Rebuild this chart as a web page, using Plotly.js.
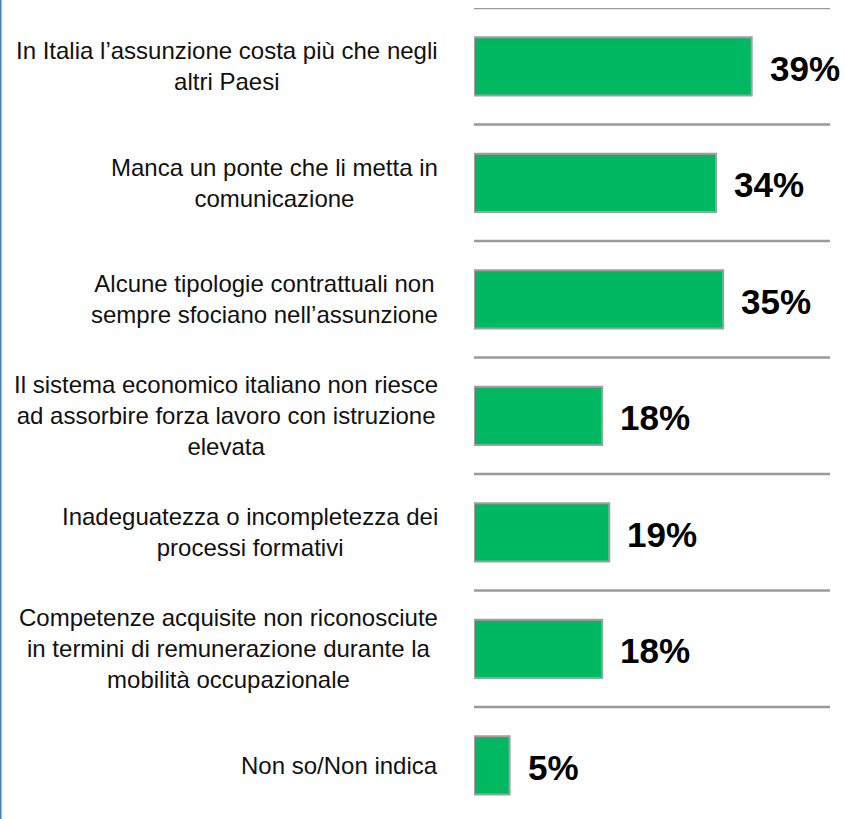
<!DOCTYPE html>
<html>
<head>
<meta charset="utf-8">
<script src="https://cdn.plot.ly/plotly-3.0.1.min.js"></script>
<style>
  html, body { margin: 0; padding: 0; background: #fff; }
  #chart { width: 845px; height: 819px; }
</style>
</head>
<body>
<div id="chart"></div>
<script>
// data, top to bottom
const categories = [
    'In Italia l’assunzione costa più che negli<br>altri Paesi',
    'Manca un ponte che li metta in<br>comunicazione',
    'Alcune tipologie contrattuali non<br>sempre sfociano nell’assunzione',
    'Il sistema economico italiano non riesce<br>ad assorbire forza lavoro con istruzione<br>elevata',
    'Inadeguatezza o incompletezza dei<br>processi formativi',
    'Competenze acquisite non riconosciute<br>in termini di remunerazione durante la<br>mobilità occupazionale',
    'Non so/Non indica'
];
const values = [39, 34, 35, 18, 19, 18, 5];
const valueLabels = ['39%', '34%', '35%', '18%', '19%', '18%', '5%'];

const FONT = 'Liberation Sans, Arial, Helvetica, sans-serif';
const GREEN = '#00b862';
const LINE_GREY = '#9a9a9a';

const trace = {
    type: 'bar',
    orientation: 'h',
    x: values,
    y: categories,
    width: 0.5,
    marker: { color: GREEN, line: { color: '#a0a0a0', width: 2 } },
    hoverinfo: 'none'
};

// left labels, right edge just before the bars, lines centred
const labelNotes = categories.map((c, i) => ({
    xref: 'paper', yref: 'y',
    x: -0.095, y: i,
    text: c,
    xanchor: 'right', yanchor: 'middle',
    align: 'center',
    showarrow: false,
    font: { family: FONT, size: 24, color: '#111' }
}));

// value labels after the bar ends
const valueNotes = values.map((v, i) => ({
    xref: 'x', yref: 'y',
    x: v, y: i,
    text: valueLabels[i],
    xanchor: 'left', yanchor: 'middle',
    xshift: 16, yshift: -2,
    showarrow: false,
    font: { family: FONT, size: 35, color: '#000', weight: 'bold' }
}));

// grey separators between the rows
const separators = [];
for (let i = 0; i < categories.length; i++) {
    separators.push({
        type: 'line', xref: 'paper', yref: 'y',
        x0: 0, x1: 1, y0: i - 0.5, y1: i - 0.5,
        line: { color: LINE_GREY, width: 2.5 }
    });
}
// thin blue frame edge on the far left
separators.push({
    type: 'line', xref: 'paper', yref: 'paper',
    x0: -1.3299, x1: -1.3299, y0: -0.01, y1: 1.02,
    line: { color: '#4f7fb8', width: 2 }
});

const layout = {
    width: 845, height: 819,
    margin: { l: 474, r: 15, t: 8, b: 2 },
    paper_bgcolor: '#fff',
    plot_bgcolor: '#fff',
    showlegend: false,
    bargap: 0.5,
    xaxis: { range: [0, 50], visible: false, fixedrange: true },
    yaxis: {
        type: 'category',
        range: [6.444, -0.5],
        showticklabels: false, showgrid: false, zeroline: false,
        showline: false, ticks: '', fixedrange: true
    },
    shapes: separators,
    annotations: labelNotes.concat(valueNotes)
};

Plotly.newPlot('chart', [trace], layout, { displayModeBar: false, staticPlot: true });
</script>
</body>
</html>
